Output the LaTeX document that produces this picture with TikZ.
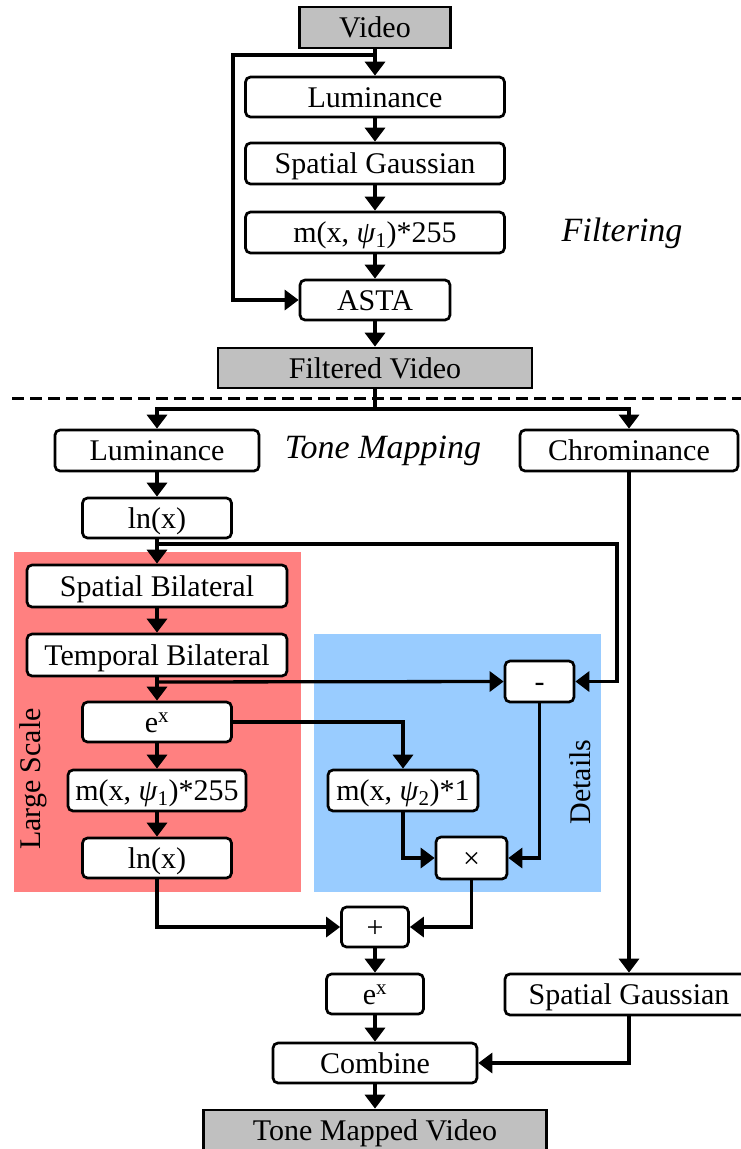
\documentclass[tikz,border=0pt]{standalone}
\usepackage{fontspec}
\setmainfont{Liberation Serif}
\usetikzlibrary{arrows.meta}
\definecolor{boxgray}{RGB}{192,192,192}
\definecolor{largepink}{RGB}{255,128,128}
\definecolor{detailblue}{RGB}{153,204,255}
\tikzset{
  blk/.style={draw=black, line width=2.7pt, rounded corners=5pt, fill=white,
    inner sep=0pt, text height=24pt, text depth=4pt, align=center,
    font=\fontsize{30}{36}\selectfont},
  io/.style={blk, fill=boxgray, rounded corners=0pt},
  arr/.style={line width=3.3pt, -{Triangle[length=14pt,width=20pt]}},
  wire/.style={line width=3.3pt},
  stage/.style={font=\fontsize{34}{40}\selectfont\itshape},
  region/.style={font=\fontsize{30}{36}\selectfont, rotate=90}
}
\newcommand{\psiidx}[1]{\textit{ψ}\textsubscript{#1}}
\begin{document}
\begin{tikzpicture}[x=1pt,y=-1pt]
\useasboundingbox (0,0) rectangle (741,1149);
\clip (0,0) rectangle (741,1149);

% background regions
\fill[largepink] (14,552) rectangle (301,892);
\fill[detailblue] (314,634) rectangle (601,892);

% stage separator
\draw[line width=3pt, dash pattern=on 12pt off 6pt] (12,398) -- (741,398);

% filtering stage
\node[io, minimum width=151pt, minimum height=41pt] (video) at (375,27.5) {Video};
\node[blk, minimum width=259pt, minimum height=40pt] (lum1) at (375,97) {Luminance};
\node[blk, minimum width=259pt, minimum height=41pt] (sg1) at (375,163.5) {Spatial Gaussian};
\node[blk, minimum width=259pt, minimum height=41pt] (m1) at (375,232.5) {m(x, \psiidx{1})*255};
\node[blk, minimum width=150pt, minimum height=40pt] (asta) at (375,300) {ASTA};
\node[io, minimum width=314pt, minimum height=40pt] (fv) at (375,368) {Filtered Video};
\node[stage] (filtlbl) at (622,233) {Filtering};

% tone mapping stage
\node[blk, minimum width=204pt, minimum height=41pt] (lum2) at (157,450.5) {Luminance};
\node[blk, minimum width=218pt, minimum height=41pt] (chrom) at (629,450.5) {Chrominance};
\node[stage] (tmlbl) at (383,451) {Tone Mapping};
\node[blk, minimum width=149pt, minimum height=40pt] (ln1) at (157,518) {ln(x)};
\node[blk, minimum width=260pt, minimum height=42pt] (sbil) at (157,586) {Spatial Bilateral};
\node[blk, minimum width=260pt, minimum height=42pt] (tbil) at (157,655) {Temporal Bilateral};
\node[blk, minimum width=149pt, minimum height=40pt] (ex1) at (157,722) {e\textsuperscript{x}};
\node[blk, minimum width=178pt, minimum height=41pt] (m2) at (157,790.5) {m(x, \psiidx{1})*255};
\node[blk, minimum width=149pt, minimum height=40pt] (ln2) at (157,858) {ln(x)};
\node[blk, minimum width=69pt, minimum height=41pt] (minus) at (539.5,681.5) {-};
\node[blk, minimum width=150pt, minimum height=41pt] (m3) at (403,790.5) {m(x, \psiidx{2})*1};
\node[blk, minimum width=71pt, minimum height=42pt] (times) at (471.5,858) {×};
\node[blk, minimum width=67pt, minimum height=40pt] (plus) at (375,927) {+};
\node[blk, minimum width=97pt, minimum height=40pt] (ex2) at (375,994) {e\textsuperscript{x}};
\node[blk, minimum width=204pt, minimum height=40pt] (comb) at (375,1063) {Combine};
\node[io, minimum width=343pt, minimum height=40pt] (tmv) at (375,1130) {Tone Mapped Video};
\node[blk, minimum width=248pt, minimum height=41pt] (sg2) at (629,994.5) {Spatial Gaussian};
\node[region] (lslbl) at (33,779) {Large Scale};
\node[region] (detlbl) at (580,782) {Details};

% junction points
\coordinate (vsplit) at (375,55);
\coordinate (bypass) at (233,55);
\coordinate (fork) at (375,409);
\coordinate (lnsplit) at (157,544);
\coordinate (lnturn) at (617,544);
\coordinate (bsplit) at (157,682);

% filtering connectors
\draw[arr] (video.south) -- (lum1.north);
\draw[arr] (vsplit) -- (bypass) |- (asta.west);
\draw[arr] (lum1) -- (sg1);
\draw[arr] (sg1) -- (m1);
\draw[arr] (m1) -- (asta);
\draw[arr] (asta) -- (fv);

% tone mapping connectors
\draw[wire] (fv.south) -- (fork);
\draw[arr] (fork) -| (lum2.north);
\draw[arr] (fork) -| (chrom.north);
\draw[arr] (lum2) -- (ln1);
\draw[arr] (ln1) -- (sbil);
\draw[arr] (lnsplit) -- (lnturn) |- (minus.east);
\draw[arr] (sbil) -- (tbil);
\draw[arr] (tbil) -- (ex1);
\draw[arr] (bsplit) -- (minus.west);
\draw[arr] (ex1.east) -| (m3.north);
\draw[arr] (ex1) -- (m2);
\draw[arr] (m2) -- (ln2);
\draw[arr] (m3.south) |- (times.west);
\draw[arr] (minus.south) |- (times.east);
\draw[arr] (ln2.south) |- (plus.west);
\draw[arr] (times.south) |- (plus.east);
\draw[arr] (plus) -- (ex2);
\draw[arr] (ex2) -- (comb);
\draw[arr] (comb) -- (tmv);
\draw[arr] (chrom.south) -- (sg2.north);
\draw[arr] (sg2.south) |- (comb.east);
\end{tikzpicture}
\end{document}
